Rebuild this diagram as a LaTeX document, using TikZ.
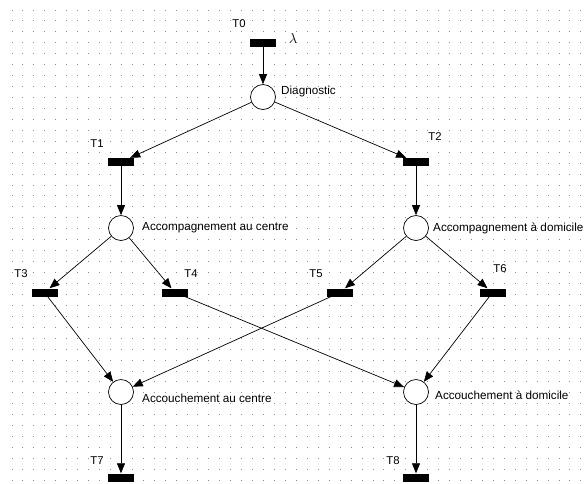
\documentclass[tikz,border=0pt]{standalone}
\usepackage{fontspec}
\setmainfont{Liberation Sans}
\usetikzlibrary{arrows.meta}
\begin{document}
\begin{tikzpicture}[x=1pt,y=-1pt,
  place/.style={circle,draw=black,fill=white,line width=0.7pt,minimum size=25pt,inner sep=0pt},
  trans/.style={rectangle,fill=black,draw=none,minimum width=26pt,minimum height=8pt,inner sep=0pt},
  lbl/.style={inner sep=0pt,font=\fontsize{11.3}{13}\selectfont},
  plbl/.style={lbl,anchor=west,font=\fontsize{11.7}{13}\selectfont},
  arr/.style={draw=black,line width=0.7pt,-{Triangle[length=10pt,width=8pt]}}
]
\useasboundingbox (0,0) rectangle (586,483);
\fill[white] (0,0) rectangle (586,483);
% dot grid
\foreach \i in {0,...,52}{
  \foreach \j in {0,...,43}{
    \fill[black!45] ({12+10.94*\i-0.5},{10+10.94*\j-0.5}) rectangle ++(1,1);
  }
}
% places
\node[place] (P0) at (263,97) {};
\node[place] (P1) at (121,228) {};
\node[place] (P2) at (416,228) {};
\node[place] (P3) at (121,392) {};
\node[place] (P4) at (416,392) {};
% transitions
\node[trans] (T0) at (263,42.5) {};
\node[trans] (T1) at (121,162) {};
\node[trans] (T2) at (416,162) {};
\node[trans] (T3) at (44.5,292.5) {};
\node[trans] (T4) at (175,292.5) {};
\node[trans] (T5) at (340,292.5) {};
\node[trans] (T6) at (492.5,292.5) {};
\node[trans] (T7) at (121,477.5) {};
\node[trans] (T8) at (416,477.5) {};
% transition labels
\node[lbl] (L0) at (239,24) {T0};
\node[lbl] (L1) at (97,144) {T1};
\node[lbl] (L2) at (435,137) {T2};
\node[lbl] (L3) at (21,274) {T3};
\node[lbl] (L4) at (191,274) {T4};
\node[lbl] (L5) at (316,274) {T5};
\node[lbl] (L6) at (500,269) {T6};
\node[lbl] (L7) at (97,461) {T7};
\node[lbl] (L8) at (393,461) {T8};
\node[inner sep=0pt,font=\fontsize{15}{17}\selectfont] (lam) at (293,38) {$\lambda$};
% place labels
\node[plbl] (D0) at (281,91) {Diagnostic};
\node[plbl] (D1) at (142,228) {Accompagnement au centre};
\node[plbl] (D2) at (433,228) {Accompagnement à domicile};
\node[plbl] (D3) at (142,398) {Accouchement au centre};
\node[plbl] (D4) at (435,395) {Accouchement à domicile};
% arcs
\draw[arr] (T0) -- (P0);
\draw[arr] (P0) -- (T1);
\draw[arr] (P0) -- (T2);
\draw[arr] (T1) -- (P1);
\draw[arr] (T2) -- (P2);
\draw[arr] (P1) -- (T3);
\draw[arr] (P1) -- (T4);
\draw[arr] (P2) -- (T5);
\draw[arr] (P2) -- (T6);
\draw[arr] (T3) -- (P3);
\draw[arr] (T5) -- (P3);
\draw[arr] (T4) -- (P4);
\draw[arr] (T6) -- (P4);
\draw[arr] (P3) -- (T7);
\draw[arr] (P4) -- (T8);
\end{tikzpicture}
\end{document}
